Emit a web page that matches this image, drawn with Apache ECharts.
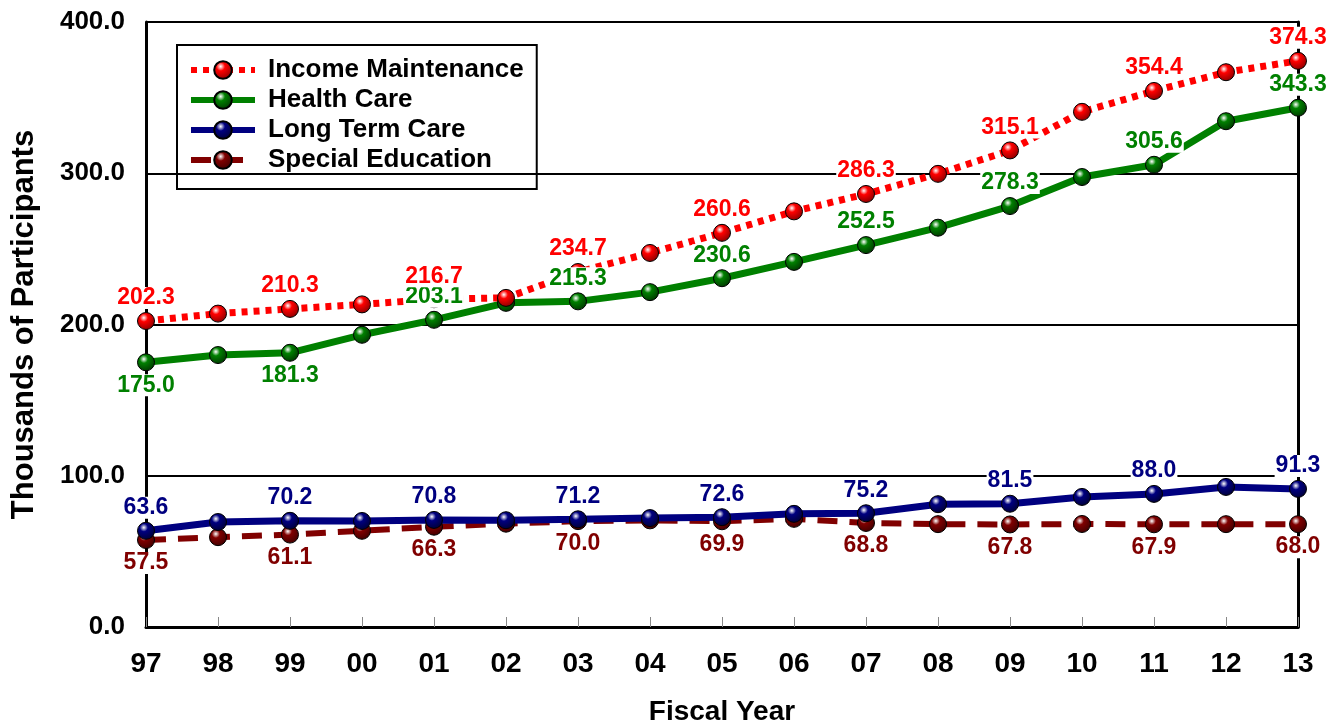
<!DOCTYPE html>
<html>
<head>
<meta charset="utf-8">
<script src="https://cdn.jsdelivr.net/npm/echarts@6/dist/echarts.min.js"></script>
<style>
  html, body { margin: 0; padding: 0; background: #fff; }
  #chart { width: 1327px; height: 723px; }
</style>
</head>
<body>
<div id="chart"></div>
<script>
const years = ['97','98','99','00','01','02','03','04','05','06','07','08','09','10','11','12','13']
const incomeMaintenance = [202.3, 207.2, 210.3, 213.3, 216.7, 217.6, 234.7, 247.3, 260.6, 274.8, 286.3, 299.6, 315.1, 340.6, 354.4, 366.8, 374.3]
const healthCare = [175.0, 179.8, 181.3, 193.2, 203.1, 214.3, 215.3, 221.4, 230.6, 241.4, 252.5, 264.0, 278.3, 297.5, 305.6, 334.4, 343.3]
const longTermCare = [63.6, 69.4, 70.2, 70.1, 70.8, 70.6, 71.2, 72.0, 72.6, 74.8, 75.2, 81.2, 81.5, 86.0, 88.0, 92.6, 91.3]
const specialEducation = [57.5, 59.4, 61.1, 63.6, 66.3, 68.3, 70.0, 70.5, 69.9, 71.5, 68.8, 68.0, 67.8, 68.1, 67.9, 68.0, 68.0]
const yTicks = [0, 100, 200, 300, 400]

const FONT = 'Liberation Sans, Arial, sans-serif'

const ball = (c, dark) => new echarts.graphic.RadialGradient(0.38, 0.32, 0.75, [
  { offset: 0, color: '#ffffff' },
  { offset: 0.3, color: c },
  { offset: 1, color: dark }
])

// label on every other point, position may vary per point
const withLabels = (arr, pos) => arr.map((v, i) => {
  if (i % 2 !== 0) return v
  return { value: v, label: { show: true, position: typeof pos === 'function' ? pos(i) : pos } }
})

const labelStyle = (color) => ({
  show: false,
  color: color,
  fontFamily: FONT,
  fontWeight: 'bold',
  fontSize: 23,
  lineHeight: 22,
  backgroundColor: '#ffffff',
  padding: [0, 1],
  distance: 3,
  formatter: p => p.value.toFixed(1)
})

const mkSeries = (name, arr, color, dark, lineType, lineW, pos) => ({
  name: name,
  type: 'line',
  data: withLabels(arr, pos),
  symbol: 'circle',
  symbolSize: 17,
  showAllSymbol: true,
  lineStyle: { color: color, width: lineW, type: lineType, cap: 'butt' },
  itemStyle: { color: ball(color, dark), borderColor: '#000', borderWidth: 1 },
  label: labelStyle(color),
  emphasis: { disabled: true },
  animation: false
})

const chart = echarts.init(document.getElementById('chart'))
chart.setOption({
  animation: false,
  textStyle: { fontFamily: FONT },
  grid: { left: 146, right: 29, top: 22, bottom: 96, outerBoundsMode: 'none', containLabel: false },
  legend: {
    left: 177,
    top: 45,
    orient: 'vertical',
    itemGap: 4,
    itemWidth: 64,
    itemHeight: 22,
    padding: [12, 13, 16, 11],
    borderColor: '#000',
    borderWidth: 2,
    lineStyle: { width: 6 },
    textStyle: { fontSize: 26, fontWeight: 'bold', color: '#000', fontFamily: FONT, lineHeight: 26, padding: [0, 0, 0, 8] },
    data: ['Income Maintenance', 'Health Care', 'Long Term Care', 'Special Education']
  },
  xAxis: {
    type: 'category',
    data: years,
    boundaryGap: false,
    name: 'Fiscal Year',
    nameLocation: 'middle',
    nameGap: 71,
    nameTextStyle: { fontSize: 28, fontWeight: 'bold', color: '#000' },
    axisLine: { lineStyle: { color: '#000', width: 3 } },
    axisTick: { show: true, inside: true, length: 10, lineStyle: { color: '#888', width: 1 } },
    axisLabel: { fontSize: 28, fontWeight: 'bold', color: '#000', margin: 23 },
    splitLine: { show: false }
  },
  yAxis: [{
    type: 'value',
    min: yTicks[0],
    max: yTicks[yTicks.length - 1],
    interval: 100,
    name: 'Thousands of Participants',
    nameLocation: 'middle',
    nameGap: 106,
    nameTextStyle: { fontSize: 31, fontWeight: 'bold', color: '#000' },
    axisLine: { show: true, lineStyle: { color: '#000', width: 3 } },
    axisTick: { show: false },
    axisLabel: { fontSize: 26, fontWeight: 'bold', color: '#000', margin: 21, formatter: v => v.toFixed(1) },
    splitLine: { show: true, lineStyle: { color: '#000', width: 2 } }
  }, {
    type: 'value',
    position: 'right',
    min: 0,
    max: 400,
    interval: 100,
    axisLine: { show: true, lineStyle: { color: '#000', width: 3 } },
    axisTick: { show: false },
    axisLabel: { show: false },
    splitLine: { show: false }
  }],
  series: [
    mkSeries('Special Education', specialEducation, '#800000', '#3a0000', [20, 12], 6, 'bottom'),
    mkSeries('Long Term Care', longTermCare, '#000080', '#000030', 'solid', 7, 'top'),
    mkSeries('Health Care', healthCare, '#008000', '#003000', 'solid', 7, i => (i < 4 ? 'bottom' : 'top')),
    mkSeries('Income Maintenance', incomeMaintenance, '#ff0000', '#800000', [6, 6], 7, 'top')
  ]
})
</script>
</body>
</html>
